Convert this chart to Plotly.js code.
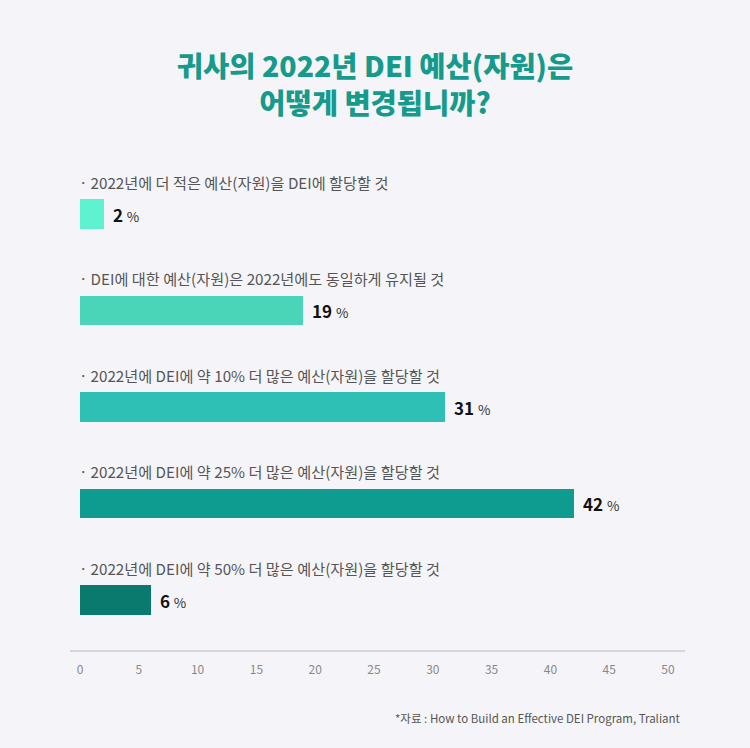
<!DOCTYPE html>
<html>
<head>
<meta charset="utf-8">
<script src="https://cdn.plot.ly/plotly-3.0.1.min.js"></script>
<style>
html,body{margin:0;padding:0;background:#f5f5f9;}
#chart{width:750px;height:748px;}
</style>
</head>
<body>
<div id="chart"></div>
<script>
const categories = [
  "2022년에 더 적은 예산(자원)을 DEI에 할당할 것",
  "DEI에 대한 예산(자원)은 2022년에도 동일하게 유지될 것",
  "2022년에 DEI에 약 10% 더 많은 예산(자원)을 할당할 것",
  "2022년에 DEI에 약 25% 더 많은 예산(자원)을 할당할 것",
  "2022년에 DEI에 약 50% 더 많은 예산(자원)을 할당할 것"
];
const values = [2, 19, 31, 42, 6];
const barColors = ["#5ef2d0", "#4bd5b8", "#2ec0b4", "#0f9c90", "#0b7a6e"];
const tickVals = [0, 5, 10, 15, 20, 25, 30, 35, 40, 45, 50];

const font = "'Noto Sans CJK KR', 'Noto Sans', sans-serif";
const idx = categories.map((c, i) => i);

const trace = {
  type: 'bar',
  orientation: 'h',
  x: values,
  y: idx,
  width: 0.306,
  marker: {color: barColors},
  hoverinfo: 'none'
};

const annotations = [];
categories.forEach((c, i) => {
  annotations.push({
    xref: 'paper', yref: 'y', x: 0, y: i - 0.335,
    xanchor: 'left', yanchor: 'middle', xshift: -3,
    text: '·\u2009' + c, showarrow: false,
    font: {family: font, size: 15.2, color: '#555555'}
  });
  annotations.push({
    xref: 'x', yref: 'y', x: values[i], y: i,
    xanchor: 'left', yanchor: 'middle', xshift: 7,
    text: '<b>' + values[i] + '</b> <span style="font-size:13.5px;color:#333">%</span>',
    showarrow: false,
    font: {family: font, size: 17, color: '#111111'}
  });
});
annotations.push({
  xref: 'paper', yref: 'paper', x: 1, y: 0, xanchor: 'right', yanchor: 'middle',
  xshift: 15, yshift: -67,
  text: '*자료 : How to Build an Effective DEI Program, Traliant', showarrow: false,
  font: {family: font, size: 11.5, color: '#555555'}
});

const layout = {
  width: 750, height: 748,
  paper_bgcolor: '#f5f5f9', plot_bgcolor: '#f5f5f9',
  margin: {l: 80, r: 82, t: 170, b: 97},
  title: {
    text: '귀사의 2022년 DEI 예산(자원)은<br>어떻게 변경됩니까?',
    x: 0.5, xanchor: 'center', y: 0.897, yanchor: 'top',
    font: {family: font, size: 28.5, color: '#169a8b', weight: 900}
  },
  showlegend: false,
  xaxis: {
    range: [0, 50], tickvals: tickVals, showgrid: false, zeroline: false,
    showline: false, ticks: '', ticklabelstandoff: 10,
    tickfont: {family: font, size: 12, color: '#888888'}, fixedrange: true
  },
  yaxis: {
    range: [4.528, -0.456], showticklabels: false, showgrid: false,
    zeroline: false, showline: false, ticks: '', fixedrange: true
  },
  shapes: [{
    type: 'line', xref: 'paper', yref: 'paper',
    x0: -10/588, x1: 1 + 17/588, y0: 0, y1: 0,
    line: {color: '#d6d6dc', width: 2}
  }],
  annotations: annotations,
  bargap: 0
};

Plotly.newPlot('chart', [trace], layout, {displayModeBar: false, staticPlot: true});
</script>
</body>
</html>
